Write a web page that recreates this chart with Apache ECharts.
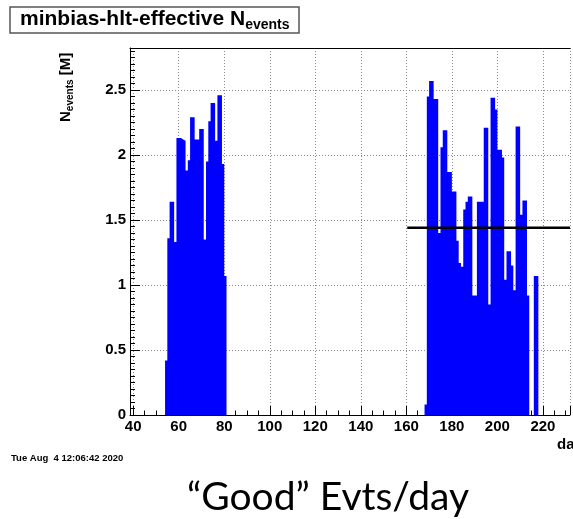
<!DOCTYPE html>
<html>
<head>
<meta charset="utf-8">
<script src="https://cdn.jsdelivr.net/npm/echarts@6/dist/echarts.min.js"></script>
<style>
html, body { margin: 0; padding: 0; background: #fff; }
#chart { width: 573px; height: 519px; }
</style>
</head>
<body>
<div id="chart"></div>
<script>
// N events per day, in millions. One value per day, run starts at the given day.
const run1Start = 54;
const run1Values = [0.42, 1.36, 1.64, 1.64, 1.33, 2.13, 2.13, 2.12, 2.11, 1.88, 1.96, 2.29, 2.29, 2.12,
    2.12, 2.20, 2.20, 1.35, 1.95, 2.26, 2.40, 2.40, 2.11, 2.46, 2.46, 1.93, 1.07];
const run2Start = 168;
const run2Values = [0.08, 2.45, 2.57, 2.57, 2.43, 2.43, 1.40, 2.06, 2.19, 2.19, 1.87, 1.87, 1.72, 1.72,
    1.34, 1.17, 1.14, 1.58, 1.64, 1.68, 1.68, 0.92, 0.92, 1.64, 1.64, 1.64, 2.21, 2.21, 0.85, 2.44,
    2.44, 2.35, 2.04, 2.04, 1.98, 1.04, 1.26, 1.26, 1.15, 0.96, 2.22, 2.22, 1.54, 1.65, 1.65, 0.92,
    0, 0, 1.07, 1.07];
// mean level line drawn from day 160 on
const meanLevel = 1.44;
const meanFrom = 160.4;
const xTicks = [40, 60, 80, 100, 120, 140, 160, 180, 200, 220];
const yTicks = [0, 0.5, 1, 1.5, 2, 2.5];

const xMin = 38.6, xMax = 231.9;
const yMax = 2.823;

// histogram outline: left edge of each bin, value held until next edge
function histPoints() {
    let pts = [];
    [[run1Start, run1Values], [run2Start, run2Values]].forEach(([start, vals]) => {
        vals.forEach((v, i) => pts.push([start + i, v]));
        pts.push([start + vals.length, 0]);
    });
    return pts;
}

const font = 'Liberation Sans, Arial, Helvetica, sans-serif';
const gridLine = { show: true, lineStyle: { color: '#8a8a8a', type: [1, 2], width: 1 } };

let chart = echarts.init(document.getElementById('chart'), null, { renderer: 'canvas' });

const option = {
    animation: false,
    backgroundColor: '#fff',
    title: {
        left: 10,
        top: 4,
        padding: [2, 10, 1, 10],
        borderColor: '#555',
        borderWidth: 1.5,
        text: '{a|minbias-hlt-effective N}{b|events}',
        textStyle: {
            rich: {
                a: { fontFamily: font, fontWeight: 'bold', fontSize: 21, lineHeight: 26, color: '#000', verticalAlign: 'middle' },
                b: { fontFamily: font, fontWeight: 'bold', fontSize: 14, lineHeight: 13, color: '#000', verticalAlign: 'bottom' }
            }
        }
    },
    grid: { left: 130, right: 0, top: 48, bottom: 104, containLabel: false },
    xAxis: [
        {
            type: 'value', position: 'bottom', min: xMin, max: xMax,
            splitNumber: 10, minInterval: 20, maxInterval: 20,
            axisLine: { onZero: false, lineStyle: { color: '#000', width: 1 } },
            axisTick: { inside: true, length: 9, lineStyle: { color: '#000' } },
            axisLabel: {
                margin: 4, color: '#000', fontFamily: font, fontWeight: 'bold', fontSize: 15,
                formatter: v => xTicks.includes(v) ? String(v) : ''
            },
            splitLine: gridLine
        },
        {
            type: 'value', position: 'bottom', min: xMin, max: xMax,
            splitNumber: 40, minInterval: 5, maxInterval: 5,
            axisLine: { show: false, onZero: false },
            axisTick: { inside: true, length: 4.5, lineStyle: { color: '#000' } },
            axisLabel: { show: false },
            splitLine: { show: false }
        },
        {
            type: 'value', position: 'top', min: xMin, max: xMax,
            axisLine: { onZero: false, lineStyle: { color: '#000', width: 1 } },
            axisTick: { show: false },
            axisLabel: { show: false },
            splitLine: { show: false }
        }
    ],
    yAxis: [
        {
            type: 'value', position: 'left', min: 0, max: yMax, interval: 0.5,
            axisLine: { show: true, onZero: false, lineStyle: { color: '#000', width: 1 } },
            axisTick: { inside: true, length: 10, lineStyle: { color: '#000' } },
            axisLabel: {
                margin: 4, color: '#000', fontFamily: font, fontWeight: 'bold', fontSize: 15,
                showMaxLabel: false,
                formatter: v => yTicks.includes(v) ? String(v) : ''
            },
            splitLine: gridLine
        },
        {
            type: 'value', position: 'left', min: 0, max: yMax, interval: 0.05,
            axisLine: { show: false, onZero: false },
            axisTick: { inside: true, length: 5, lineStyle: { color: '#000' } },
            axisLabel: { show: false },
            splitLine: { show: false }
        }
    ],
    series: [
        {
            name: 'N events',
            type: 'line',
            step: 'end',
            xAxisIndex: 0, yAxisIndex: 0,
            data: histPoints(),
            showSymbol: false,
            symbol: 'none',
            lineStyle: { width: 0, opacity: 0 },
            areaStyle: { color: '#0000ff', opacity: 1 },
            z: 3
        },
        {
            name: 'mean',
            type: 'line',
            xAxisIndex: 0, yAxisIndex: 0,
            data: [[meanFrom, meanLevel], [xMax, meanLevel]],
            symbol: 'none',
            lineStyle: { color: '#000', width: 2.5 },
            z: 4
        }
    ],
    graphic: [
        {
            type: 'text', x: 66, y: 122, rotation: Math.PI / 2,
            style: {
                text: '{n|N}{s|events}{n| [M]}',
                align: 'left', verticalAlign: 'middle',
                rich: {
                    n: { fontFamily: font, fontWeight: 'bold', fontSize: 15, lineHeight: 19, fill: '#000', verticalAlign: 'middle' },
                    s: { fontFamily: font, fontWeight: 'bold', fontSize: 10, lineHeight: 9, fill: '#000', verticalAlign: 'bottom' }
                }
            }
        },
        {
            type: 'text', x: 557, y: 445,
            style: { text: 'day', font: 'bold 15px ' + font, fill: '#000', verticalAlign: 'middle' }
        },
        {
            type: 'text', x: 11, y: 458,
            style: { text: 'Tue Aug  4 12:06:42 2020', font: 'bold 9.5px ' + font, fill: '#000', verticalAlign: 'middle' }
        },
        {
            type: 'text', x: 328, y: 497,
            style: { text: '\u201CGood\u201D Evts/day', font: '39px Lato, "Open Sans", sans-serif', fill: '#000', align: 'center', verticalAlign: 'middle' }
        }
    ]
};

chart.setOption(option);
window.addEventListener('resize', () => chart.resize(), { passive: true });
</script>
</body>
</html>
